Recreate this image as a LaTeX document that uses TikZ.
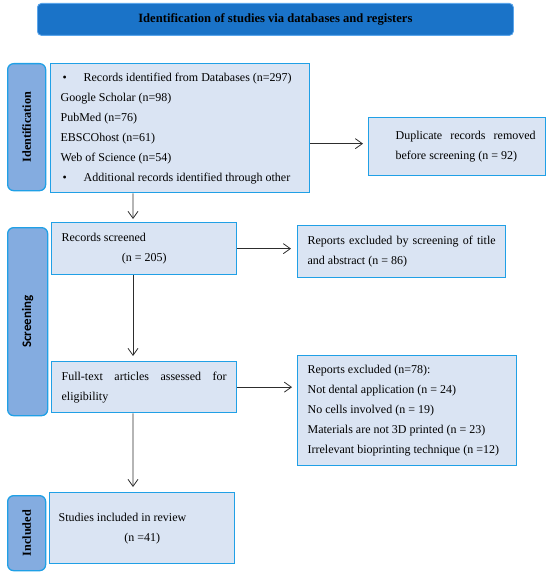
\documentclass[tikz,border=0pt]{standalone}
\usepackage{fontspec}
\setmainfont{Liberation Serif}
\newfontfamily\labsans{Carlito}
\usetikzlibrary{arrows.meta}
\definecolor{boxfill}{RGB}{218,228,243}
\definecolor{boxline}{RGB}{32,160,230}
\definecolor{labfill}{RGB}{132,172,224}
\definecolor{titlefill}{RGB}{26,115,200}
\definecolor{titleline}{RGB}{90,165,235}
\definecolor{arrcol}{RGB}{45,45,45}
\newcommand\boxtext[4]{\hspace*{#1}\parbox{#2}{\fontsize{12bp}{20bp}\selectfont\raggedright #4}\hspace*{#3}}
\newcommand\bul{\hspace*{2bp}\makebox[21bp][l]{\textbullet}}
\tikzset{
  box/.style={draw=boxline, line width=1.3bp, fill=boxfill, inner sep=0pt, anchor=north west},
  lab/.style={draw=boxline, line width=1.3bp, fill=labfill, rounded corners=6bp, inner sep=0pt, anchor=north west, font=\fontsize{12.2bp}{14bp}\selectfont\bfseries},
  titlebox/.style={draw=titleline, line width=0.8bp, fill=titlefill, rounded corners=4bp, inner sep=0pt, anchor=north west, font=\fontsize{12.6bp}{14bp}\selectfont\bfseries},
  arr/.style={draw=arrcol, line width=0.8bp, -{Straight Barb[length=7bp,width=10bp]}}
}
\begin{document}
\begin{tikzpicture}[x=1bp,y=-1bp]
\useasboundingbox (0,0) rectangle (550,576);
% title
\node[titlebox, minimum width=476bp, minimum height=32bp] (title) at (37,3) {Identification of studies via databases and registers};
% side labels
\node[lab, minimum width=38bp, minimum height=127bp] (lid) at (7,63) {\rotatebox{90}{Identification}};
\node[lab, minimum width=40bp, minimum height=188bp] (lsc) at (7,227) {\rotatebox{90}{\labsans\fontsize{13bp}{14bp}\selectfont\bfseries Screening}};
\node[lab, minimum width=38bp, minimum height=75bp] (lin) at (7,495) {\rotatebox{90}{Included}};
% boxes
\node[box, minimum height=129bp] (b1) at (50,63) {\boxtext{10bp}{239bp}{10bp}{%
\bul Records identified from Databases (n=297)\\
Google Scholar (n=98)\\
PubMed (n=76)\\
EBSCOhost (n=61)\\
Web of Science (n=54)\\
\bul Additional records identified through other}};
\node[box, minimum height=58bp] (dup) at (368,117) {\boxtext{27bp}{140bp}{10bp}{%
\makebox[140bp][s]{Duplicate records removed}\\
before screening (n = 92)}};
\node[box, minimum height=52bp] (scr) at (51,222) {\boxtext{10bp}{165bp}{10bp}{%
Records screened\\
\makebox[165bp]{(n = 205)}}};
\node[box, minimum height=52bp] (ex1) at (297,225) {\boxtext{10bp}{188bp}{10bp}{%
\makebox[188bp][s]{Reports excluded by screening of title}\\
and abstract (n = 86)}};
\node[box, minimum height=51bp] (full) at (51,361) {\boxtext{10bp}{165bp}{10bp}{%
\makebox[165bp][s]{Full-text articles assessed for}\\
eligibility}};
\node[box, minimum height=110bp] (ex2) at (297,355) {\boxtext{10bp}{199bp}{10bp}{%
Reports excluded (n=78):\\
Not dental application (n = 24)\\
No cells involved (n = 19)\\
Materials are not 3D printed (n = 23)\\
Irrelevant bioprinting technique (n =12)}};
\node[box, minimum height=71bp] (inc) at (49,492) {\boxtext{9bp}{167bp}{9bp}{%
Studies included in review\\
\makebox[167bp]{(n =41)}}};
% arrows
\draw[arr, shorten >=3bp] ([xshift=83bp]b1.south west) -- ([xshift=82bp]scr.north west);
\draw[arr, shorten >=5bp] ([xshift=82bp]scr.south west) -- ([xshift=82bp]full.north west);
\draw[arr, shorten >=5bp] ([xshift=82bp]full.south west) -- ([xshift=84bp]inc.north west);
\draw[arr, shorten >=5bp] ([yshift=3bp]b1.east |- dup.west) -- ([yshift=3bp]dup.west);
\draw[arr, shorten >=6bp] (scr.east) -- (scr.east -| ex1.west);
\draw[arr, shorten >=5bp] (full.east) -- (full.east -| ex2.west);
\end{tikzpicture}
\end{document}
